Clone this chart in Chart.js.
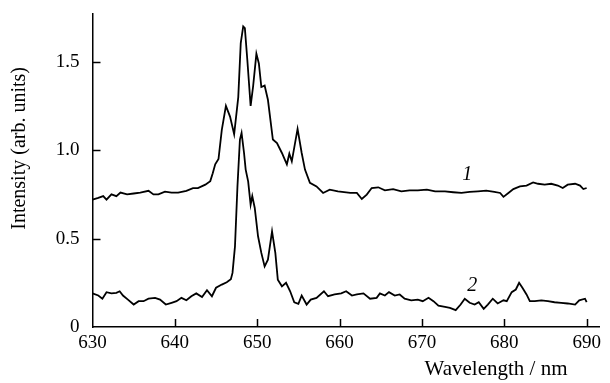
<!DOCTYPE html>
<html><head><meta charset="utf-8">
<script src="https://cdn.jsdelivr.net/npm/chart.js@4"></script>
<style>html,body{margin:0;padding:0;background:#fff}canvas{display:block}</style>
</head><body>
<canvas id="c" width="610" height="383"></canvas>
<script>
const wavelength1 = [630.0,630.7,631.3,631.7,632.3,632.9,633.4,634.2,635.0,635.8,636.8,637.4,638.0,638.8,639.6,640.4,641.4,642.2,642.8,643.7,644.3,644.6,644.9,645.3,645.7,646.2,646.7,647.2,647.7,648.0,648.3,648.5,648.8,649.2,649.5,649.9,650.2,650.5,650.9,651.3,651.9,652.4,653.0,653.6,653.9,654.2,654.9,655.4,655.8,656.4,657.2,658.0,658.8,659.8,661.3,662.1,662.7,663.3,663.9,664.7,665.5,666.5,667.5,668.5,669.5,670.6,671.6,672.8,673.8,674.8,675.8,676.8,677.8,678.8,679.5,679.9,680.5,681.1,681.9,682.7,683.5,684.1,684.9,685.7,686.5,687.1,687.7,688.6,689.2,689.6,690.0];
const intensity1 = [0.72,0.73,0.74,0.72,0.75,0.74,0.76,0.75,0.755,0.76,0.77,0.75,0.75,0.765,0.76,0.76,0.77,0.785,0.785,0.805,0.825,0.87,0.92,0.95,1.115,1.25,1.19,1.09,1.30,1.605,1.70,1.69,1.51,1.25,1.36,1.545,1.49,1.357,1.365,1.285,1.06,1.04,0.984,0.92,0.98,0.937,1.12,0.984,0.89,0.815,0.795,0.758,0.777,0.767,0.758,0.758,0.724,0.749,0.786,0.79,0.773,0.78,0.767,0.773,0.773,0.777,0.767,0.767,0.762,0.758,0.764,0.767,0.771,0.764,0.758,0.736,0.758,0.78,0.795,0.80,0.818,0.81,0.805,0.81,0.80,0.786,0.805,0.81,0.80,0.78,0.786];
const wavelength2 = [630.0,630.7,631.2,631.7,632.3,632.9,633.3,633.7,634.3,635.0,635.6,636.2,636.8,637.6,638.2,638.9,639.6,640.2,640.8,641.4,642.0,642.6,643.3,643.9,644.5,645.0,645.7,646.3,646.8,647.0,647.3,647.6,647.9,648.1,648.4,648.6,648.9,649.2,649.4,649.7,650.1,650.5,650.9,651.3,651.8,652.2,652.5,653.0,653.5,654.0,654.5,655.0,655.4,656.0,656.5,657.2,658.1,658.6,659.4,660.2,660.8,661.5,662.1,662.9,663.7,664.5,664.9,665.5,666.0,666.7,667.3,667.9,668.7,669.5,670.1,670.8,671.4,672.0,672.8,673.4,674.1,674.7,675.2,675.8,676.4,676.9,677.5,678.0,678.6,679.2,679.9,680.3,680.9,681.4,681.8,682.2,682.7,683.1,683.7,684.5,685.3,686.1,686.9,687.7,688.6,689.1,689.8,690.0];
const intensity2 = [0.19,0.178,0.16,0.197,0.19,0.193,0.202,0.178,0.155,0.127,0.146,0.146,0.16,0.165,0.155,0.127,0.137,0.146,0.165,0.151,0.174,0.19,0.17,0.208,0.174,0.222,0.24,0.253,0.27,0.306,0.456,0.795,1.06,1.097,0.984,0.89,0.824,0.692,0.74,0.673,0.513,0.419,0.343,0.381,0.541,0.419,0.268,0.23,0.25,0.202,0.14,0.131,0.178,0.127,0.155,0.165,0.202,0.174,0.184,0.19,0.202,0.178,0.184,0.19,0.16,0.165,0.19,0.178,0.197,0.178,0.184,0.16,0.151,0.155,0.146,0.165,0.146,0.121,0.114,0.108,0.095,0.127,0.16,0.137,0.127,0.14,0.103,0.127,0.16,0.133,0.151,0.146,0.197,0.212,0.25,0.222,0.184,0.146,0.146,0.151,0.146,0.14,0.137,0.133,0.127,0.151,0.16,0.14];
const xTickValues = [630,640,650,660,670,680,690];
const yTickValues = [0,0.5,1.0,1.5];
const yTickLabels = ['0','0.5','1.0','1.5'];
const xTitle = 'Wavelength / nm';
const yTitle = 'Intensity (arb. units)';
const curveLabels = ['1','2'];
const curveLabelAt = [[675.5,0.86],[676.1,0.234]];

const SERIF = '"Liberation Serif", "Times New Roman", serif';

function toPoints(xs, ys){ return xs.map((v,i)=>({x:v,y:ys[i]})); }

const decor = {
  id:'decor',
  afterDraw(chart){
    const {ctx, chartArea:a, scales:{x,y}} = chart;
    ctx.save();
    ctx.strokeStyle = '#000'; ctx.lineWidth = 1.5;
    x.ticks.forEach(t=>{
      if (t.value === 630) return;
      const px = Math.round(x.getPixelForValue(t.value)) + 0.5;
      ctx.beginPath(); ctx.moveTo(px, a.bottom); ctx.lineTo(px, a.bottom - 8); ctx.stroke();
    });
    y.ticks.forEach(t=>{
      if (t.value === 0) return;
      const py = Math.round(y.getPixelForValue(t.value)) + 0.5;
      ctx.beginPath(); ctx.moveTo(a.left, py); ctx.lineTo(a.left + 8, py); ctx.stroke();
    });
    ctx.fillStyle = '#000';
    ctx.textAlign = 'center'; ctx.textBaseline = 'middle';
    ctx.font = '21px ' + SERIF;
    ctx.fillText(xTitle, x.getPixelForValue(679), a.bottom + 42);
    ctx.save();
    ctx.translate(20, y.getPixelForValue(1.01));
    ctx.rotate(-Math.PI/2);
    ctx.font = '20px ' + SERIF;
    ctx.fillText(yTitle, 0, 0);
    ctx.restore();
    ctx.font = 'italic 20px ' + SERIF;
    curveLabels.forEach((s,i)=>{
      ctx.fillText(s, x.getPixelForValue(curveLabelAt[i][0]), y.getPixelForValue(curveLabelAt[i][1]));
    });
    ctx.restore();
  }
};

new Chart(document.getElementById('c'), {
  type: 'line',
  data: {
    datasets: [
      {label:'1', data: toPoints(wavelength1, intensity1), borderColor:'#000', borderWidth:1.8, pointRadius:0, tension:0, fill:false},
      {label:'2', data: toPoints(wavelength2, intensity2), borderColor:'#000', borderWidth:1.8, pointRadius:0, tension:0, fill:false}
    ]
  },
  options: {
    responsive:false, animation:false, devicePixelRatio:1,
    layout:{padding:{left:0, top:14, right:11, bottom:0}},
    plugins:{legend:{display:false}, tooltip:{enabled:false}},
    scales:{
      x:{
        type:'linear', min:630, max:691.5,
        afterBuildTicks: s => { s.ticks = xTickValues.map(v=>({value:v})); },
        afterFit: s => { s.height = 56; s.paddingLeft = 0; s.paddingRight = 0; },
        grid:{display:false, drawTicks:false},
        border:{display:true, color:'#000', width:1.5},
        ticks:{color:'#000', font:{family:SERIF, size:19}, padding:5, maxRotation:0, autoSkip:false, callback:v=>String(v)}
      },
      y:{
        type:'linear', min:0, max:1.77,
        afterBuildTicks: s => { s.ticks = yTickValues.map(v=>({value:v})); },
        afterFit: s => { s.width = 92.5; s.paddingTop = 0; s.paddingBottom = 0; },
        grid:{display:false, drawTicks:false},
        border:{display:true, color:'#000', width:1.5},
        ticks:{color:'#000', font:{family:SERIF, size:19}, padding:13, autoSkip:false,
          callback:(v)=>{ const i = yTickValues.indexOf(v); return i>=0 ? yTickLabels[i] : ''; }}
      }
    }
  },
  plugins:[decor]
});
</script>
</body></html>
